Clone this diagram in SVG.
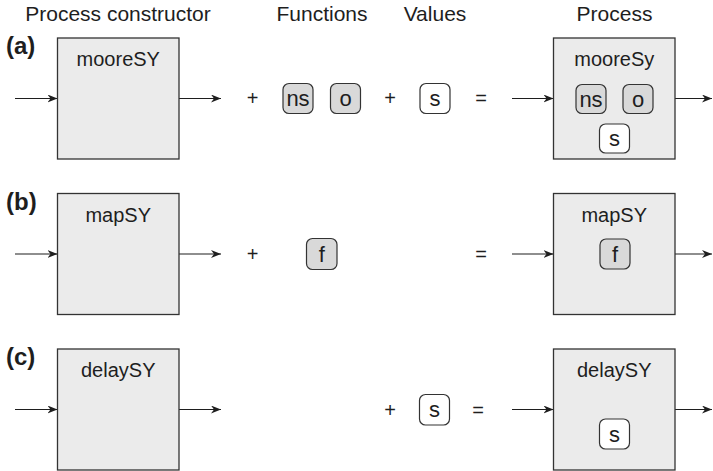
<svg xmlns="http://www.w3.org/2000/svg" width="713" height="471" viewBox="0 0 713 471">
  <defs>
    <style>
      text { font-family: "Liberation Sans", Arial, Helvetica, sans-serif; fill: #1e1e1e; }
      .hdr { font-size: 21px; text-anchor: middle; }
      .tag { font-size: 24px; font-weight: bold; }
      .ttl { font-size: 20px; text-anchor: middle; }
      .op { font-size: 20px; text-anchor: middle; }
      .chiptxt { font-size: 22px; text-anchor: middle; }
      .box { fill: #ebebeb; stroke: #333; stroke-width: 1.3; }
      .fn { fill: #d9d9d9; stroke: #333; stroke-width: 1.2; }
      .val { fill: #ffffff; stroke: #333; stroke-width: 1.2; }
      .wire { stroke: #1e1e1e; stroke-width: 1.2; fill: none; marker-end: url(#head); }
    </style>
    <marker id="head" viewBox="0 0 10 8" markerWidth="10" markerHeight="8" refX="10" refY="4" orient="auto" markerUnits="userSpaceOnUse">
      <path d="M0,0 L10,4 L0,8 L3,4 z" fill="#1e1e1e"/>
    </marker>
  </defs>

  <!-- column headings -->
  <g id="headings">
    <text class="hdr" x="118" y="21">Process constructor</text>
    <text class="hdr" x="322" y="21">Functions</text>
    <text class="hdr" x="435" y="21">Values</text>
    <text class="hdr" x="614.5" y="21">Process</text>
  </g>

  <!-- row labels -->
  <g id="labels">
    <text class="tag" x="6" y="54">(a)</text>
    <text class="tag" x="6" y="209.5">(b)</text>
    <text class="tag" x="6" y="365">(c)</text>
  </g>

  <!-- connectors -->
  <g id="connectors">
    <path class="wire" d="M15,98.5 H57.5"/>
    <path class="wire" d="M179,98.5 H221"/>
    <path class="wire" d="M512,98.5 H553.5"/>
    <path class="wire" d="M675,98.5 H712"/>

    <path class="wire" d="M15,254 H57.5"/>
    <path class="wire" d="M179,254 H221"/>
    <path class="wire" d="M512,254 H553.5"/>
    <path class="wire" d="M675,254 H712"/>

    <path class="wire" d="M15,409.5 H57.5"/>
    <path class="wire" d="M179,409.5 H221"/>
    <path class="wire" d="M512,409.5 H553.5"/>
    <path class="wire" d="M675,409.5 H712"/>
  </g>

  <!-- row (a): mooreSY -->
  <g id="mooreSY">
    <rect class="box" x="57.5" y="38" width="121.5" height="121"/>
    <text class="ttl" x="118.25" y="66">mooreSY</text>
  </g>
  <g id="ops-a">
    <text class="op" x="252.7" y="105">+</text>
    <text class="op" x="390" y="105">+</text>
    <text class="op" x="481" y="105">=</text>
  </g>
  <g id="fn-ns">
    <rect class="fn" x="283" y="83.5" width="30" height="30" rx="6"/>
    <text class="chiptxt" x="298" y="106">ns</text>
  </g>
  <g id="fn-o">
    <rect class="fn" x="330.5" y="83.5" width="30" height="30" rx="6"/>
    <text class="chiptxt" x="345.5" y="106">o</text>
  </g>
  <g id="val-s-a">
    <rect class="val" x="420" y="83.5" width="30" height="30" rx="6"/>
    <text class="chiptxt" x="435" y="106">s</text>
  </g>
  <g id="mooreSy-process">
    <rect class="box" x="553.5" y="38" width="121.5" height="121"/>
    <text class="ttl" x="614.25" y="66">mooreSy</text>
    <rect class="fn" x="576" y="84.5" width="30" height="29" rx="6"/>
    <text class="chiptxt" x="591" y="106.5">ns</text>
    <rect class="fn" x="623" y="84.5" width="30" height="29" rx="6"/>
    <text class="chiptxt" x="638" y="106.5">o</text>
    <rect class="val" x="599.5" y="124" width="30" height="29" rx="6"/>
    <text class="chiptxt" x="614.5" y="146">s</text>
  </g>

  <!-- row (b): mapSY -->
  <g id="mapSY">
    <rect class="box" x="57.5" y="193.5" width="121.5" height="121"/>
    <text class="ttl" x="118.25" y="221.5">mapSY</text>
  </g>
  <g id="ops-b">
    <text class="op" x="252.7" y="260.5">+</text>
    <text class="op" x="481" y="260.5">=</text>
  </g>
  <g id="fn-f">
    <rect class="fn" x="306.5" y="238.5" width="30.5" height="31" rx="6"/>
    <text class="chiptxt" x="321.75" y="261.5">f</text>
  </g>
  <g id="mapSY-process">
    <rect class="box" x="553.5" y="193.5" width="121.5" height="121"/>
    <text class="ttl" x="614.25" y="221.5">mapSY</text>
    <rect class="fn" x="600" y="239" width="30" height="30" rx="6"/>
    <text class="chiptxt" x="615" y="261.5">f</text>
  </g>

  <!-- row (c): delaySY -->
  <g id="delaySY">
    <rect class="box" x="57.5" y="349" width="121.5" height="121"/>
    <text class="ttl" x="118.25" y="377">delaySY</text>
  </g>
  <g id="ops-c">
    <text class="op" x="390" y="416.5">+</text>
    <text class="op" x="478" y="416.5">=</text>
  </g>
  <g id="val-s-c">
    <rect class="val" x="419.5" y="394.5" width="30" height="30.5" rx="6"/>
    <text class="chiptxt" x="434.5" y="417">s</text>
  </g>
  <g id="delaySY-process">
    <rect class="box" x="553.5" y="349" width="121.5" height="121"/>
    <text class="ttl" x="614.25" y="377">delaySY</text>
    <rect class="val" x="599.5" y="419" width="30" height="30" rx="6"/>
    <text class="chiptxt" x="614.5" y="441.5">s</text>
  </g>
</svg>
